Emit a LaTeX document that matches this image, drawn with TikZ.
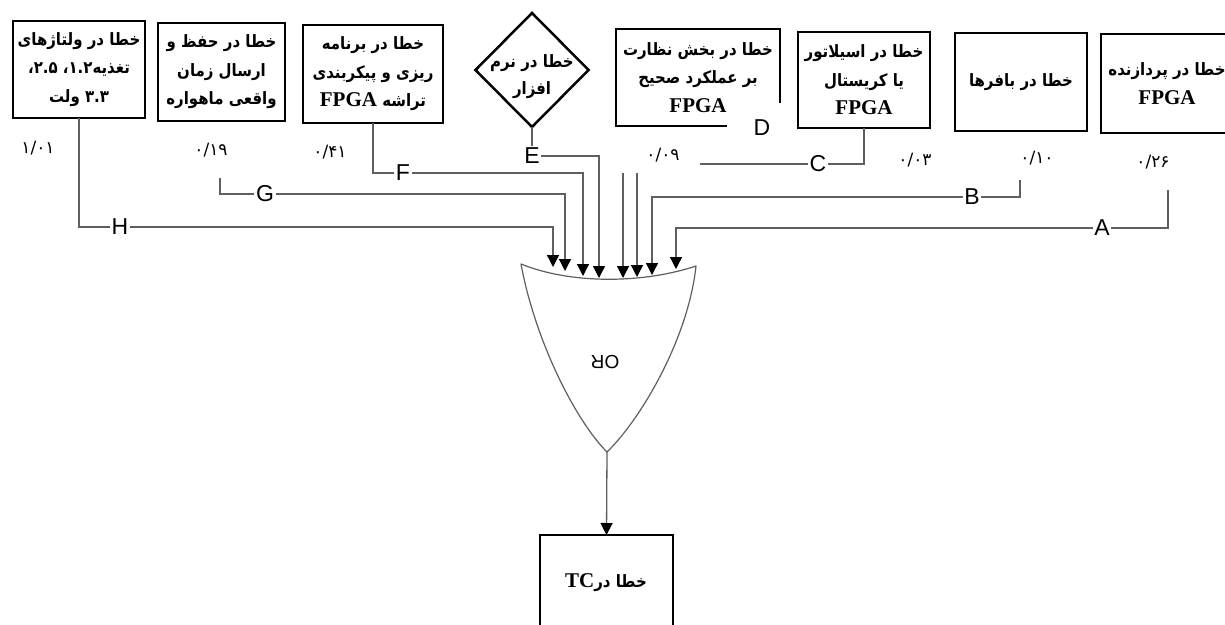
\documentclass[tikz,border=0pt]{standalone}
\usepackage{fontspec}
\usetikzlibrary{arrows.meta,shapes.geometric}
\TeXXeTstate=1
\newfontfamily\fafont[Script=Arabic, FakeStretch=0.88]{DejaVu Sans}
\newfontfamily\numfont{DejaVu Sans}
\newfontfamily\latinserif{Liberation Serif}
\newfontfamily\labfont{Liberation Sans}
\newcommand\rl[1]{\beginR#1\endR}
\newcommand\lt[1]{\beginL#1\endL}
\newcommand\fpga{{\latinserif\bfseries\fontsize{21}{28}\selectfont FPGA}}
\definecolor{wire}{RGB}{95,95,95}

\tikzset{
  errbox/.style={draw=black, line width=2.8pt, inner sep=0pt, outer sep=0pt, align=center,
    font=\fafont\bfseries\fontsize{17}{28.5}\selectfont},
  errtext/.style={inner sep=0pt, align=center, font=\fafont\bfseries\fontsize{17}{27}\selectfont},
  prob/.style={inner sep=0pt, font=\numfont\fontsize{17}{18}\selectfont},
  wirelab/.style={fill=white, inner sep=1.5pt, font=\labfont\fontsize{23}{24}\selectfont},
  wireline/.style={draw=wire, line width=1.3pt},
  feed/.style={wireline, -{Triangle[width=12pt,length=12pt,black]}},
  gateline/.style={draw=wire, line width=1.2pt, line join=round}
}

\begin{document}
\begin{tikzpicture}[x=1pt,y=-1pt]
\useasboundingbox[fill=white] (0,0) rectangle (1225,624);

% fault sources
\node[errbox, minimum width=132, minimum height=97] (bH) at (79,69.5)
  {\rl{خطا در ولتاژهای}\\ \rl{تغذیه\lt{۱.۲}، \lt{۲.۵}،}\\ \rl{\lt{۳.۳} ولت}};
\node[errbox, minimum width=127, minimum height=98] (bG) at (221.5,72)
  {\rl{خطا در حفظ و}\\ \rl{ارسال زمان}\\ \rl{واقعی ماهواره}};
\node[errbox, minimum width=140, minimum height=98] (bF) at (373,74)
  {\rl{خطا در برنامه}\\ \rl{ریزی و پیکربندی}\\ \rl{تراشه \lt{\fpga}}};
\node[draw=black, line width=2.5pt, shape=diamond, minimum width=113, minimum height=114,
  inner sep=0pt, outer sep=0pt] (dE) at (532,70) {};
\node[errtext] (tE) at (532,77) {\rl{خطا در نرم}\\ \rl{افزار}};
\node[errbox, draw=none, minimum width=164, minimum height=97] (bD) at (698,77.5)
  {\rl{خطا در بخش نظارت}\\ \rl{بر عملکرد صحیح}\\ \fpga};
\draw[line width=2.8pt] (bD.south east) ++(-53,0) -- (bD.south west) -- (bD.north west)
  -- (bD.north east) -- ++(0,74);
\node[errbox, minimum width=132, minimum height=96] (bC) at (864,80)
  {\rl{خطا در اسیلاتور}\\ \rl{یا کریستال}\\ \fpga};
\node[errbox, minimum width=132, minimum height=98] (bB) at (1021,82)
  {\rl{خطا در بافرها}};
\node[errbox, minimum width=132, minimum height=99] (bA) at (1167,83.5)
  {\rl{خطا در پردازنده}\\ \fpga};

% probabilities
\node[prob] (nH) at (38,148) {۱/۰۱};
\node[prob] (nG) at (211,150) {۰/۱۹};
\node[prob] (nF) at (330,152) {۰/۴۱};
\node[prob] (nD) at (663,155) {۰/۰۹};
\node[prob] (nC) at (915,160) {۰/۰۳};
\node[prob] (nB) at (1037,158) {۰/۱۰};
\node[prob] (nA) at (1153,162) {۰/۲۶};

% OR gate
\coordinate (gl) at (521,264);
\coordinate (gr) at (696,266);
\coordinate (gb) at (607,452);
\draw[gateline] (gl) .. controls (570,284) and (642,284) .. (gr)
  .. controls (688,340) and (640,420) .. (gb)
  .. controls (575,420) and (535,340) .. (gl) -- cycle;
\node[rotate=180, inner sep=0pt, font=\labfont\fontsize{19}{20}\selectfont] (orl) at (605,362) {OR};

% gate inputs
\coordinate (in1) at (553,267);
\coordinate (in2) at (565,271);
\coordinate (in3) at (583,276);
\coordinate (in4) at (599,278);
\coordinate (in5) at (623,278);
\coordinate (in6) at (637,277);
\coordinate (in7) at (652,275);
\coordinate (in8) at (676,269);

% wire labels
\node[wirelab] (lH) at (120,227) {H};
\node[wirelab] (lG) at (265,194) {G};
\node[wirelab] (lF) at (403,173) {F};
\node[wirelab] (lE) at (532,156) {E};
\node[inner sep=0pt, font=\labfont\fontsize{23}{24}\selectfont] (lD) at (762,128) {D};
\node[wirelab] (lC) at (818,164) {C};
\node[wirelab] (lB) at (972,197) {B};
\node[wirelab] (lA) at (1102,228) {A};

% wire ends away from boxes
\coordinate (g0) at (220,178);
\coordinate (v5) at (623,173);
\coordinate (v6) at (637,173);
\coordinate (b0) at (1020,180);
\coordinate (a0) at (1168,190);
\coordinate (c1) at (700,164);

% connectors
\draw[wireline] (bH.south) |- (lH.west);
\draw[feed] (lH.east) -| (in1);
\draw[wireline] (g0) |- (lG.west);
\draw[feed] (lG.east) -| (in2);
\draw[wireline] (bF.south) |- (lF.west);
\draw[feed] (lF.east) -| (in3);
\draw[wireline] (dE.south) -- (lE.north);
\draw[feed] (lE.east) -| (in4);
\draw[feed] (v5) -- (in5);
\draw[feed] (v6) -- (in6);
\draw[wireline] (b0) |- (lB.east);
\draw[feed] (lB.west) -| (in7);
\draw[wireline] (a0) |- (lA.east);
\draw[feed] (lA.west) -| (in8);
\draw[wireline] (bC.south) |- (lC.east);
\draw[wireline] (lC.west) -- (c1);

% top event
\node[draw=black, line width=2.8pt, inner sep=0pt, outer sep=0pt, minimum width=133,
  minimum height=110] (bTC) at (606.5,590) {};
\node[errtext] (tTC) at (606,583) {\rl{خطا در\lt{{\latinserif\bfseries\fontsize{21}{28}\selectfont TC}}}};
\draw[feed] (gb) -- (bTC.north);
\end{tikzpicture}
\end{document}
